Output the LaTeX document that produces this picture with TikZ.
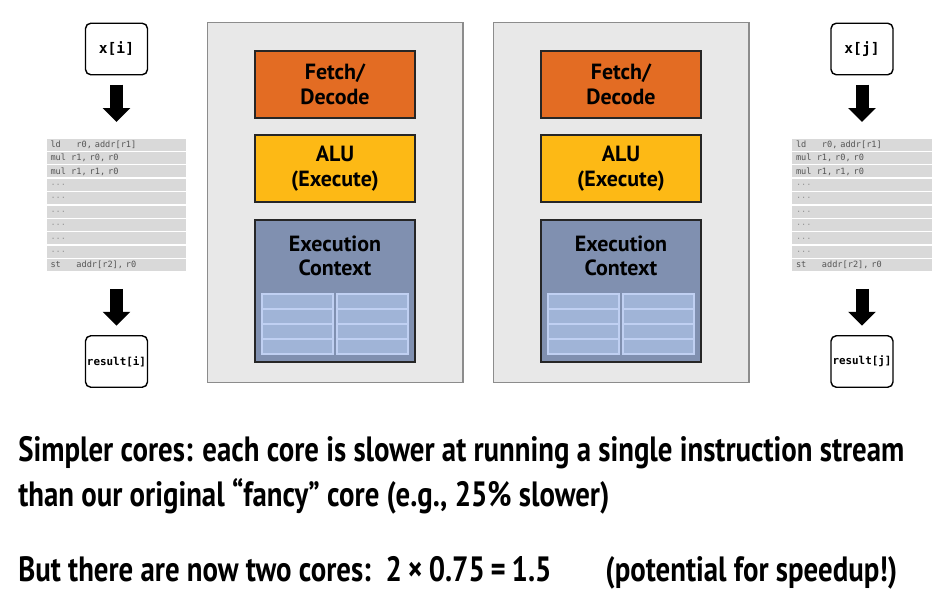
\documentclass[tikz,border=0pt]{standalone}
\usepackage{fontspec}
\newfontfamily\boxfont{PT Sans}
\newfontfamily\condfont[FakeStretch=0.82]{PT Sans}
\newfontfamily\codefont{DejaVu Sans Mono}
\usetikzlibrary{positioning, arrows.meta}
\definecolor{corebg}{RGB}{232,232,232}
\definecolor{coreline}{RGB}{140,140,140}
\definecolor{fetchcol}{RGB}{227,108,35}
\definecolor{alucol}{RGB}{253,185,21}
\definecolor{ctxcol}{RGB}{128,144,176}
\definecolor{cellcol}{RGB}{160,180,215}
\definecolor{celledge}{RGB}{192,208,242}
\definecolor{rowgray}{RGB}{217,217,217}
\definecolor{codegray}{RGB}{85,85,85}
\definecolor{dotgray}{RGB}{150,150,150}
\newcommand\gap[1]{\phantom{#1}}
\tikzset{
  core/.style={draw=coreline, fill=corebg, line width=0.6pt, inner sep=0pt, outer sep=0pt,
    minimum width=5.12cm, minimum height=7.22cm},
  unit/.style={draw=black!85, line width=0.7pt, inner sep=0pt, outer sep=0pt, align=center,
    minimum width=3.2cm, minimum height=1.34cm, font=\boxfont\bfseries\fontsize{12.5}{14}\selectfont},
  unitlbl/.style={inner sep=0pt, align=center, font=\boxfont\bfseries\fontsize{12.5}{14}\selectfont},
  cell/.style={draw=celledge, fill=cellcol, line width=0.8pt},
  varbox/.style={draw, rounded corners=3pt, line width=0.8pt, inner sep=0pt, outer sep=0pt,
    minimum width=1.24cm, minimum height=1.03cm},
  codebox/.style={inner sep=0pt, outer sep=0pt, minimum width=2.8cm, minimum height=2.68cm},
  coderow/.style={fill=rowgray, inner xsep=0.08cm, inner ysep=0pt, text width=2.64cm,
    minimum height=0.24cm, align=left, text=codegray, font=\codefont\fontsize{4.9}{6}\selectfont},
  bigarrow/.style={line width=0.26cm, -{Triangle[width=0.54cm, length=0.28cm]}},
  bigtext/.style={anchor=base west, inner sep=0pt, font=\condfont\bfseries\fontsize{20}{24}\selectfont}
}
\begin{document}
\begin{tikzpicture}[x=0.02cm, y=-0.02cm]
\useasboundingbox (0,0) rectangle (943,597);

% the two cores
\foreach \cx/\n in {335/1, 621/2} {
  \node[core] (core\n) at (\cx,202.5) {};
  \node[unit, fill=fetchcol] (fd\n) at (\cx,84.5) {Fetch/\\Decode};
  \node[unit, fill=alucol] (alu\n) at (\cx,168.5) {ALU\\(Execute)};
  \node[unit, fill=ctxcol, minimum height=2.84cm] (ctx\n) at (\cx,291) {};
  \node[unitlbl] (ctxl\n) at (\cx,256) {Execution\\Context};
  \foreach \dx in {-73,2}
    \foreach \r in {0,...,3}
      \draw[cell] (\cx+\dx,294+15*\r) rectangle ++(71,15);
}

% instruction streams on each side
\foreach \sx/\v in {116.5/i, 862/j} {
  \node[varbox, font=\codefont\bfseries\fontsize{8.3}{10}\selectfont] (in\v) at (\sx,49) {x[\v]};
  \node[codebox] (code\v) at (\sx,205) {};
  \foreach \t [count=\k from 0] in {{ld\gap{xxx}r0, addr[r1]}, {mul\gap{x}r1, r0, r0}, {mul\gap{x}r1, r1, r0},
      {\textcolor{dotgray}{...}}, {\textcolor{dotgray}{...}}, {\textcolor{dotgray}{...}},
      {\textcolor{dotgray}{...}}, {\textcolor{dotgray}{...}}, {\textcolor{dotgray}{...}},
      {st\gap{xxx}addr[r2], r0}}
    \node[coderow] (row\v\k) at (\sx,144.7+13.4*\k) {\t};
  \node[varbox, font=\codefont\bfseries\fontsize{6.2}{8}\selectfont] (out\v) at (\sx,361.5) {result[\v]};
  \draw[bigarrow, shorten <=0.2cm, shorten >=0.32cm] (in\v) -- (code\v);
  \draw[bigarrow, shorten <=0.34cm, shorten >=0.2cm] (code\v) -- (out\v);
}

% caption text
\node[bigtext] (line1) at (18,462) {Simpler cores: each core is slower at running a single instruction stream};
\node[bigtext] (line2) at (18,506) {than our original “fancy” core (e.g., 25\% slower)};
\node[bigtext] (line3) at (18,582) {But there are now two cores:\ \ 2\,×\,0.75\,=\,1.5};
\node[bigtext] (line4) at (605,582) {(potential for speedup!)};
\end{tikzpicture}
\end{document}
